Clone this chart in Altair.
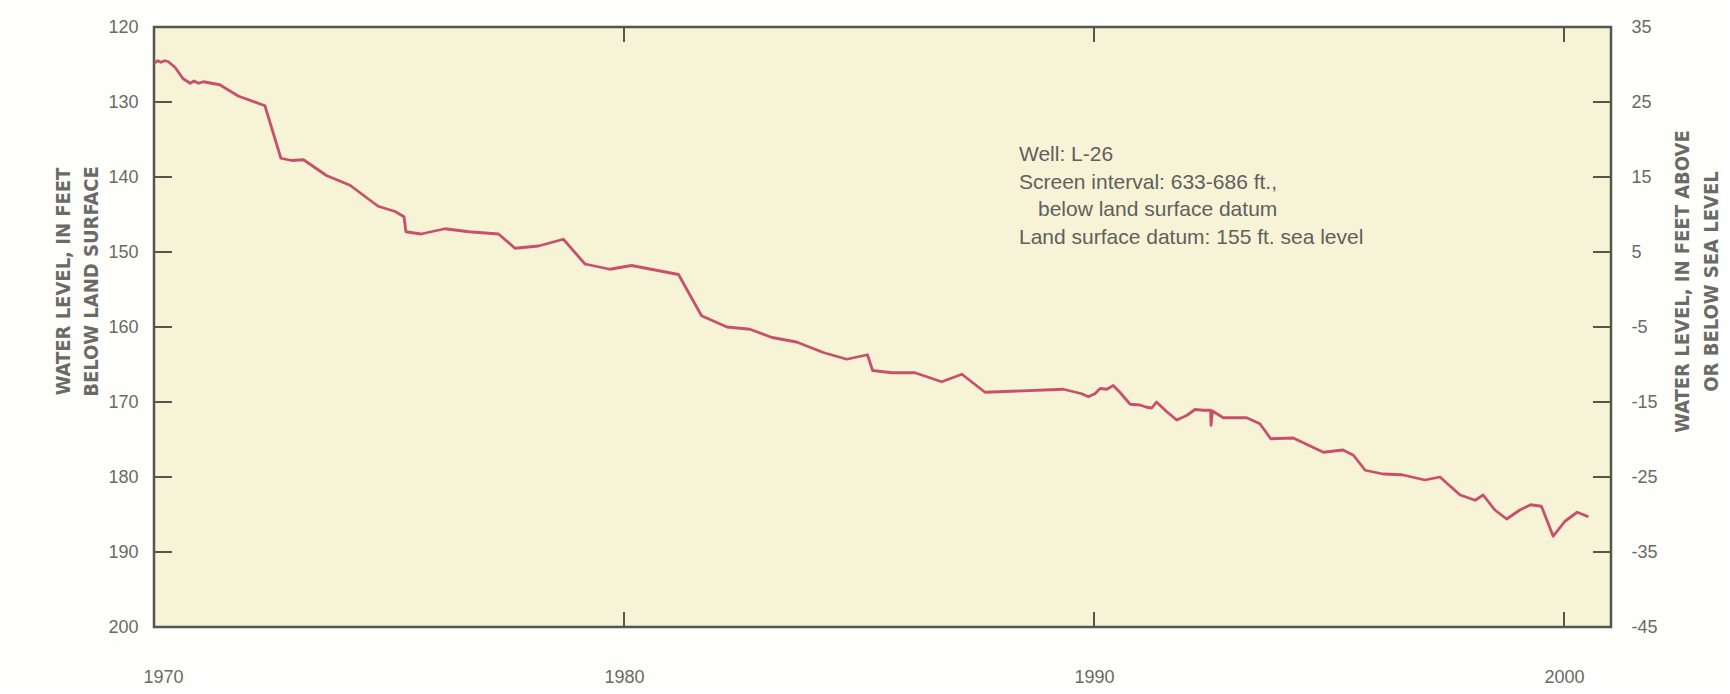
import altair as alt
import pandas as pd

# ---- data (well L-26) ----
years = [1970.00, 1970.08, 1970.15, 1970.22, 1970.30, 1970.45, 1970.62, 1970.77, 1970.85, 1970.95,
         1971.05, 1971.40, 1971.79, 1972.36, 1972.70, 1972.93, 1973.18, 1973.67, 1974.17, 1974.77,
         1975.13, 1975.32, 1975.36, 1975.68, 1976.19, 1976.70, 1977.33, 1977.68, 1978.18, 1978.71,
         1979.17, 1979.70, 1980.16, 1981.16, 1981.65, 1982.19, 1982.68, 1983.15, 1983.67, 1984.24,
         1984.74, 1985.18, 1985.29, 1985.70, 1986.19, 1986.76, 1987.19, 1987.68, 1989.35, 1989.74,
         1989.88, 1990.02, 1990.13, 1990.27, 1990.41, 1990.55, 1990.77, 1990.98, 1991.12, 1991.23,
         1991.33, 1991.55, 1991.76, 1991.97, 1992.15, 1992.33, 1992.48, 1992.49, 1992.52, 1992.75,
         1993.25, 1993.53, 1993.76, 1994.24, 1994.88, 1995.30, 1995.52, 1995.77, 1996.15, 1996.55,
         1997.04, 1997.36, 1997.79, 1998.11, 1998.28, 1998.53, 1998.78, 1999.06, 1999.29, 1999.52,
         1999.77, 2000.02, 2000.28, 2000.52]
depth = [124.8, 124.5, 124.7, 124.5, 124.6, 125.4, 126.9, 127.5, 127.2, 127.5,
         127.3, 127.7, 129.2, 130.5, 137.5, 137.8, 137.7, 139.8, 141.1, 143.9,
         144.6, 145.3, 147.3, 147.6, 146.9, 147.3, 147.6, 149.5, 149.2, 148.3,
         151.6, 152.3, 151.8, 153.0, 158.5, 160.0, 160.3, 161.4, 162.0, 163.4,
         164.3, 163.7, 165.8, 166.1, 166.1, 167.3, 166.3, 168.7, 168.3, 168.9,
         169.3, 168.9, 168.2, 168.3, 167.8, 168.7, 170.3, 170.4, 170.7, 170.8,
         170.0, 171.3, 172.4, 171.8, 171.0, 171.1, 171.1, 173.1, 171.2, 172.1,
         172.1, 172.9, 174.9, 174.8, 176.7, 176.4, 177.1, 179.1, 179.6, 179.7,
         180.4, 180.0, 182.4, 183.1, 182.4, 184.4, 185.6, 184.4, 183.7, 183.9,
         187.9, 185.9, 184.7, 185.3]

x_label_values = [1970, 1980, 1990, 2000]
x_tick_values = [1980, 1990, 2000]
left_label_values = [120, 130, 140, 150, 160, 170, 180, 190, 200]
left_tick_values = [130, 140, 150, 160, 170, 180, 190]
right_label_values = [35, 25, 15, 5, -5, -15, -25, -35, -45]
right_tick_values = [25, 15, 5, -5, -15, -25, -35]

left_title = ["WATER LEVEL, IN FEET", "BELOW LAND SURFACE"]
right_title = ["WATER LEVEL, IN FEET ABOVE", "OR BELOW SEA LEVEL"]
note_lines = ["Well: L-26", "Screen interval: 633-686 ft.,",
              "below land surface datum", "Land surface datum: 155 ft. sea level"]
note_indent = [0, 0, 19, 0]

# ---- styling ----
W, H = 1457, 600
LINE = "#C9506C"
AX = "#56564f"
LAB = "#6a6a66"
FILL = "#F7F3D7"
BG = "#FEFEFB"
FONT = "Liberation Sans"
TFONT = "Liberation Sans Narrow, DejaVu Sans Condensed, Liberation Sans"
TSIZE = 20
NOTE_SIZE = 21
NOTE_LH = 27.5

df = pd.DataFrame({"year": years, "depth": depth})

xscale = alt.Scale(domain=[1970, 2001], nice=False, zero=False)
xaxis = alt.Axis(values=x_label_values, format="d", ticks=False, domain=False, grid=False,
                 labelPadding=41, labelFontSize=18, labelColor=LAB, labelFont=FONT,
                 labelFlush=True, labelFlushOffset=11, title=None)
yscale = alt.Scale(domain=[120, 200], reverse=True, nice=False, zero=False)

line = alt.Chart(df).mark_line(color=LINE, strokeWidth=2.8, strokeJoin="round", clip=True).encode(
    x=alt.X("year:Q", scale=xscale, axis=xaxis),
    y=alt.Y("depth:Q", scale=yscale,
            axis=alt.Axis(values=left_label_values, ticks=False, domain=False, grid=False,
                          labelPadding=16, labelFontSize=18, labelColor=LAB, labelFont=FONT,
                          title=left_title, titleFontSize=TSIZE, titleFontWeight="bold",
                          titleColor=LAB, titleFont=TFONT, titleLineHeight=28,
                          titleAngle=-90, titleAlign="center", titleBaseline="middle",
                          titleX=-91, titleY=254)),
)

left_ticks = alt.Chart(pd.DataFrame({"depth": left_tick_values})).mark_rule(
    color=AX, strokeWidth=2).encode(
    y=alt.Y("depth:Q", scale=yscale, axis=None),
    x=alt.value(0), x2=alt.value(18))

right_ticks = alt.Chart(pd.DataFrame({"sea": right_tick_values})).mark_rule(
    color=AX, strokeWidth=2).encode(
    y=alt.Y("sea:Q", scale=alt.Scale(domain=[-45, 35], nice=False, zero=False),
            axis=alt.Axis(orient="right", values=right_label_values, ticks=False, domain=False,
                          grid=False, labelPadding=20, labelFontSize=18, labelColor=LAB,
                          labelFont=FONT, labelExpr="toString(datum.value)",
                          title=right_title, titleAngle=-90, titleFontSize=TSIZE,
                          titleFontWeight="bold", titleColor=LAB, titleFont=TFONT,
                          titleLineHeight=29, titleAlign="center", titleBaseline="middle",
                          titleX=71, titleY=254)),
    x=alt.value(W - 18), x2=alt.value(W))

tick_df = pd.DataFrame({"year": x_tick_values})
top_ticks = alt.Chart(tick_df).mark_rule(color=AX, strokeWidth=2).encode(
    x=alt.X("year:Q", scale=xscale, axis=xaxis), y=alt.value(0), y2=alt.value(15))
bottom_ticks = alt.Chart(tick_df).mark_rule(color=AX, strokeWidth=2).encode(
    x=alt.X("year:Q", scale=xscale, axis=xaxis), y=alt.value(H - 15), y2=alt.value(H))

one = pd.DataFrame({"k": [0]})
notes = [
    alt.Chart(one).mark_text(
        text=txt, align="left", baseline="top", fontSize=NOTE_SIZE,
        font=FONT, color="#5f5f5b").encode(x=alt.value(865 + ind), y=alt.value(117 + i * NOTE_LH))
    for i, (txt, ind) in enumerate(zip(note_lines, note_indent))
]

chart = alt.layer(line, left_ticks, right_ticks, top_ticks, bottom_ticks, *notes).resolve_scale(
    y="independent"
).properties(
    width=W, height=H,
    padding={"left": 146, "top": 19, "right": 111, "bottom": 59},
    autosize=alt.AutoSizeParams(type="none"),
    background=BG,
).configure_view(
    fill=FILL, stroke=AX, strokeWidth=2.5
)

chart.save("out.html", embed_options={"renderer": "svg", "actions": False})
